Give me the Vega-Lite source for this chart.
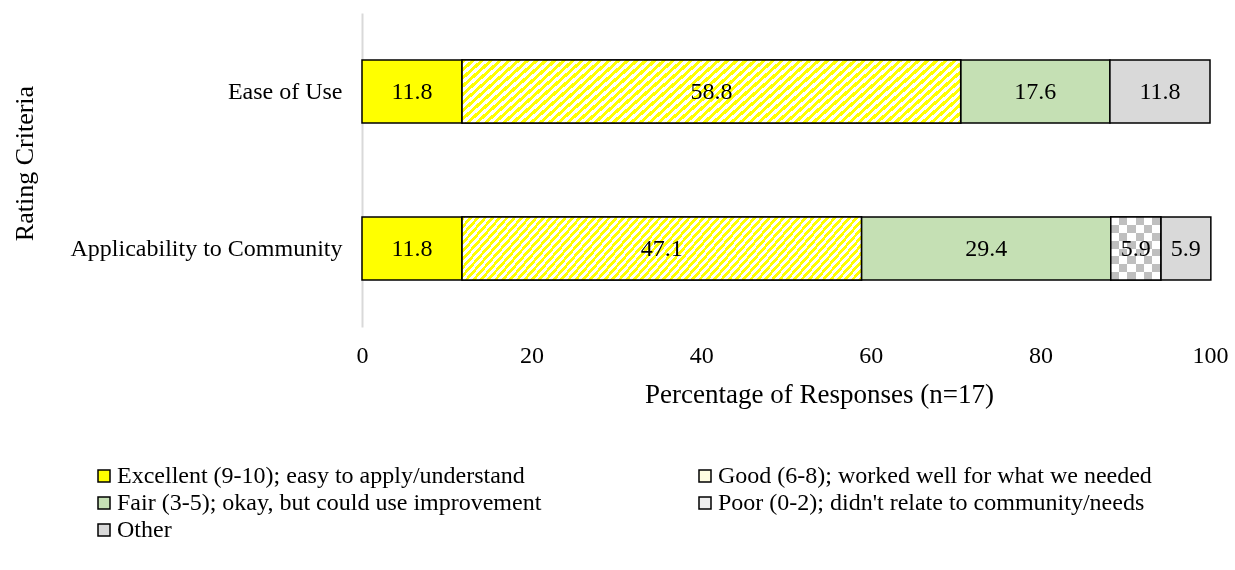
{
  "$schema": "https://vega.github.io/schema/vega-lite/v6.json",
  "width": 848,
  "height": 314,
  "autosize": {"type": "none"},
  "padding": {"left": 362, "top": 13, "right": 25, "bottom": 243},
  "background": "white",
  "config": {
    "font": "Liberation Serif",
    "view": {"stroke": null},
    "axis": {"labelColor": "black", "titleColor": "black", "titleFontWeight": "normal", "labelFont": "Liberation Serif", "titleFont": "Liberation Serif"},
    "legend": {"labelFont": "Liberation Serif"}
  },
  "data": {
    "values": [
      {"criteria": "Ease of Use", "rating": "Excellent (9-10); easy to apply/understand", "rank": 1, "pct": 11.8},
      {"criteria": "Ease of Use", "rating": "Good (6-8); worked well for what we needed", "rank": 2, "pct": 58.8},
      {"criteria": "Ease of Use", "rating": "Fair (3-5); okay, but could use improvement", "rank": 3, "pct": 17.6},
      {"criteria": "Ease of Use", "rating": "Other", "rank": 5, "pct": 11.8},
      {"criteria": "Applicability to Community", "rating": "Excellent (9-10); easy to apply/understand", "rank": 1, "pct": 11.8},
      {"criteria": "Applicability to Community", "rating": "Good (6-8); worked well for what we needed", "rank": 2, "pct": 47.1},
      {"criteria": "Applicability to Community", "rating": "Fair (3-5); okay, but could use improvement", "rank": 3, "pct": 29.4},
      {"criteria": "Applicability to Community", "rating": "Poor (0-2); didn't relate to community/needs", "rank": 4, "pct": 5.9},
      {"criteria": "Applicability to Community", "rating": "Other", "rank": 5, "pct": 5.9}
    ]
  },
  "transform": [
    {"stack": "pct", "groupby": ["criteria"], "sort": [{"field": "rank", "order": "ascending"}], "as": ["x0", "x1"]},
    {"calculate": "(datum.x0 + datum.x1) / 2", "as": "mid"}
  ],
  "encoding": {
    "y": {
      "field": "criteria",
      "type": "nominal",
      "sort": ["Ease of Use", "Applicability to Community"],
      "scale": {"paddingInner": 0.6, "paddingOuter": 0.3},
      "axis": {
        "title": "Rating Criteria",
        "labelFontSize": 24,
        "titleFontSize": 26,
        "labelPadding": 20,
        "ticks": false,
        "tickSize": 0,
        "domainColor": "#d9d9d9",
        "domainWidth": 2,
        "grid": false,
        "labelLimit": 400,
        "titleAngle": -90,
        "titleX": -330,
        "titleY": 150,
        "titleAlign": "center",
        "titleBaseline": "alphabetic"
      }
    },
    "x": {
      "field": "x0",
      "type": "quantitative",
      "scale": {"domain": [0, 100], "nice": false},
      "axis": {
        "title": "Percentage of Responses (n=17)",
        "values": [0, 20, 40, 60, 80, 100],
        "domain": false,
        "ticks": false,
        "tickSize": 0,
        "grid": false,
        "labelFlush": false,
        "labelFontSize": 24,
        "labelPadding": 16,
        "titleFontSize": 27,
        "titleX": 457,
        "titleY": 75,
        "titleAlign": "center",
        "titleBaseline": "alphabetic"
      }
    },
    "x2": {"field": "x1"}
  },
  "layer": [
    {
      "mark": {"type": "bar", "stroke": "black", "strokeWidth": 1.5},
      "encoding": {
        "color": {
          "field": "rating",
          "type": "nominal",
          "scale": {
            "domain": ["Excellent (9-10); easy to apply/understand", "Good (6-8); worked well for what we needed", "Fair (3-5); okay, but could use improvement", "Poor (0-2); didn't relate to community/needs", "Other"],
            "range": ["#ffff00", "#fffde0", "#c5e0b4", "#eeeeee", "#d9d9d9"]
          },
          "legend": {
            "orient": "none",
            "direction": "horizontal",
            "legendX": -270,
            "legendY": 451,
            "columns": 2,
            "columnPadding": 151,
            "rowPadding": 3,
            "title": null,
            "padding": 0,
            "labelFontSize": 24,
            "labelColor": "black",
            "labelLimit": 700,
            "labelOffset": 1,
            "symbolType": "square",
            "symbolSize": 144,
            "symbolStrokeColor": "black",
            "symbolStrokeWidth": 1.5,
            "symbolOpacity": 1
          }
        }
      }
    },
    {
      "transform": [{"filter": "datum.rank === 2"}],
      "mark": {
        "type": "bar",
        "stroke": "black",
        "strokeWidth": 1.5,
        "fill": {
          "gradient": "linear", "x1": 0, "y1": 0, "x2": 1.118, "y2": 0.1566,
          "stops": [
            {"offset": 0, "color": "#ff0"},
            {"offset": 0.008, "color": "#ff0"}, {"offset": 0.008, "color": "#fff"},
            {"offset": 0.016, "color": "#fff"}, {"offset": 0.016, "color": "#ff0"},
            {"offset": 0.024, "color": "#ff0"}, {"offset": 0.024, "color": "#fff"},
            {"offset": 0.032, "color": "#fff"}, {"offset": 0.032, "color": "#ff0"},
            {"offset": 0.04, "color": "#ff0"}, {"offset": 0.04, "color": "#fff"},
            {"offset": 0.048, "color": "#fff"}, {"offset": 0.048, "color": "#ff0"},
            {"offset": 0.056, "color": "#ff0"}, {"offset": 0.056, "color": "#fff"},
            {"offset": 0.064, "color": "#fff"}, {"offset": 0.064, "color": "#ff0"},
            {"offset": 0.072, "color": "#ff0"}, {"offset": 0.072, "color": "#fff"},
            {"offset": 0.08, "color": "#fff"}, {"offset": 0.08, "color": "#ff0"},
            {"offset": 0.088, "color": "#ff0"}, {"offset": 0.088, "color": "#fff"},
            {"offset": 0.096, "color": "#fff"}, {"offset": 0.096, "color": "#ff0"},
            {"offset": 0.104, "color": "#ff0"}, {"offset": 0.104, "color": "#fff"},
            {"offset": 0.112, "color": "#fff"}, {"offset": 0.112, "color": "#ff0"},
            {"offset": 0.12, "color": "#ff0"}, {"offset": 0.12, "color": "#fff"},
            {"offset": 0.128, "color": "#fff"}, {"offset": 0.128, "color": "#ff0"},
            {"offset": 0.136, "color": "#ff0"}, {"offset": 0.136, "color": "#fff"},
            {"offset": 0.144, "color": "#fff"}, {"offset": 0.144, "color": "#ff0"},
            {"offset": 0.152, "color": "#ff0"}, {"offset": 0.152, "color": "#fff"},
            {"offset": 0.16, "color": "#fff"}, {"offset": 0.16, "color": "#ff0"},
            {"offset": 0.168, "color": "#ff0"}, {"offset": 0.168, "color": "#fff"},
            {"offset": 0.176, "color": "#fff"}, {"offset": 0.176, "color": "#ff0"},
            {"offset": 0.184, "color": "#ff0"}, {"offset": 0.184, "color": "#fff"},
            {"offset": 0.192, "color": "#fff"}, {"offset": 0.192, "color": "#ff0"},
            {"offset": 0.2, "color": "#ff0"}, {"offset": 0.2, "color": "#fff"},
            {"offset": 0.208, "color": "#fff"}, {"offset": 0.208, "color": "#ff0"},
            {"offset": 0.216, "color": "#ff0"}, {"offset": 0.216, "color": "#fff"},
            {"offset": 0.224, "color": "#fff"}, {"offset": 0.224, "color": "#ff0"},
            {"offset": 0.232, "color": "#ff0"}, {"offset": 0.232, "color": "#fff"},
            {"offset": 0.24, "color": "#fff"}, {"offset": 0.24, "color": "#ff0"},
            {"offset": 0.248, "color": "#ff0"}, {"offset": 0.248, "color": "#fff"},
            {"offset": 0.256, "color": "#fff"}, {"offset": 0.256, "color": "#ff0"},
            {"offset": 0.264, "color": "#ff0"}, {"offset": 0.264, "color": "#fff"},
            {"offset": 0.272, "color": "#fff"}, {"offset": 0.272, "color": "#ff0"},
            {"offset": 0.28, "color": "#ff0"}, {"offset": 0.28, "color": "#fff"},
            {"offset": 0.288, "color": "#fff"}, {"offset": 0.288, "color": "#ff0"},
            {"offset": 0.296, "color": "#ff0"}, {"offset": 0.296, "color": "#fff"},
            {"offset": 0.304, "color": "#fff"}, {"offset": 0.304, "color": "#ff0"},
            {"offset": 0.312, "color": "#ff0"}, {"offset": 0.312, "color": "#fff"},
            {"offset": 0.32, "color": "#fff"}, {"offset": 0.32, "color": "#ff0"},
            {"offset": 0.328, "color": "#ff0"}, {"offset": 0.328, "color": "#fff"},
            {"offset": 0.336, "color": "#fff"}, {"offset": 0.336, "color": "#ff0"},
            {"offset": 0.344, "color": "#ff0"}, {"offset": 0.344, "color": "#fff"},
            {"offset": 0.352, "color": "#fff"}, {"offset": 0.352, "color": "#ff0"},
            {"offset": 0.36, "color": "#ff0"}, {"offset": 0.36, "color": "#fff"},
            {"offset": 0.368, "color": "#fff"}, {"offset": 0.368, "color": "#ff0"},
            {"offset": 0.376, "color": "#ff0"}, {"offset": 0.376, "color": "#fff"},
            {"offset": 0.384, "color": "#fff"}, {"offset": 0.384, "color": "#ff0"},
            {"offset": 0.392, "color": "#ff0"}, {"offset": 0.392, "color": "#fff"},
            {"offset": 0.4, "color": "#fff"}, {"offset": 0.4, "color": "#ff0"},
            {"offset": 0.408, "color": "#ff0"}, {"offset": 0.408, "color": "#fff"},
            {"offset": 0.416, "color": "#fff"}, {"offset": 0.416, "color": "#ff0"},
            {"offset": 0.424, "color": "#ff0"}, {"offset": 0.424, "color": "#fff"},
            {"offset": 0.432, "color": "#fff"}, {"offset": 0.432, "color": "#ff0"},
            {"offset": 0.44, "color": "#ff0"}, {"offset": 0.44, "color": "#fff"},
            {"offset": 0.448, "color": "#fff"}, {"offset": 0.448, "color": "#ff0"},
            {"offset": 0.456, "color": "#ff0"}, {"offset": 0.456, "color": "#fff"},
            {"offset": 0.464, "color": "#fff"}, {"offset": 0.464, "color": "#ff0"},
            {"offset": 0.472, "color": "#ff0"}, {"offset": 0.472, "color": "#fff"},
            {"offset": 0.48, "color": "#fff"}, {"offset": 0.48, "color": "#ff0"},
            {"offset": 0.488, "color": "#ff0"}, {"offset": 0.488, "color": "#fff"},
            {"offset": 0.496, "color": "#fff"}, {"offset": 0.496, "color": "#ff0"},
            {"offset": 0.504, "color": "#ff0"}, {"offset": 0.504, "color": "#fff"},
            {"offset": 0.512, "color": "#fff"}, {"offset": 0.512, "color": "#ff0"},
            {"offset": 0.52, "color": "#ff0"}, {"offset": 0.52, "color": "#fff"},
            {"offset": 0.528, "color": "#fff"}, {"offset": 0.528, "color": "#ff0"},
            {"offset": 0.536, "color": "#ff0"}, {"offset": 0.536, "color": "#fff"},
            {"offset": 0.544, "color": "#fff"}, {"offset": 0.544, "color": "#ff0"},
            {"offset": 0.552, "color": "#ff0"}, {"offset": 0.552, "color": "#fff"},
            {"offset": 0.56, "color": "#fff"}, {"offset": 0.56, "color": "#ff0"},
            {"offset": 0.568, "color": "#ff0"}, {"offset": 0.568, "color": "#fff"},
            {"offset": 0.576, "color": "#fff"}, {"offset": 0.576, "color": "#ff0"},
            {"offset": 0.584, "color": "#ff0"}, {"offset": 0.584, "color": "#fff"},
            {"offset": 0.592, "color": "#fff"}, {"offset": 0.592, "color": "#ff0"},
            {"offset": 0.6, "color": "#ff0"}, {"offset": 0.6, "color": "#fff"},
            {"offset": 0.608, "color": "#fff"}, {"offset": 0.608, "color": "#ff0"},
            {"offset": 0.616, "color": "#ff0"}, {"offset": 0.616, "color": "#fff"},
            {"offset": 0.624, "color": "#fff"}, {"offset": 0.624, "color": "#ff0"},
            {"offset": 0.632, "color": "#ff0"}, {"offset": 0.632, "color": "#fff"},
            {"offset": 0.64, "color": "#fff"}, {"offset": 0.64, "color": "#ff0"},
            {"offset": 0.648, "color": "#ff0"}, {"offset": 0.648, "color": "#fff"},
            {"offset": 0.656, "color": "#fff"}, {"offset": 0.656, "color": "#ff0"},
            {"offset": 0.664, "color": "#ff0"}, {"offset": 0.664, "color": "#fff"},
            {"offset": 0.672, "color": "#fff"}, {"offset": 0.672, "color": "#ff0"},
            {"offset": 0.68, "color": "#ff0"}, {"offset": 0.68, "color": "#fff"},
            {"offset": 0.688, "color": "#fff"}, {"offset": 0.688, "color": "#ff0"},
            {"offset": 0.696, "color": "#ff0"}, {"offset": 0.696, "color": "#fff"},
            {"offset": 0.704, "color": "#fff"}, {"offset": 0.704, "color": "#ff0"},
            {"offset": 0.712, "color": "#ff0"}, {"offset": 0.712, "color": "#fff"},
            {"offset": 0.72, "color": "#fff"}, {"offset": 0.72, "color": "#ff0"},
            {"offset": 0.728, "color": "#ff0"}, {"offset": 0.728, "color": "#fff"},
            {"offset": 0.736, "color": "#fff"}, {"offset": 0.736, "color": "#ff0"},
            {"offset": 0.744, "color": "#ff0"}, {"offset": 0.744, "color": "#fff"},
            {"offset": 0.752, "color": "#fff"}, {"offset": 0.752, "color": "#ff0"},
            {"offset": 0.76, "color": "#ff0"}, {"offset": 0.76, "color": "#fff"},
            {"offset": 0.768, "color": "#fff"}, {"offset": 0.768, "color": "#ff0"},
            {"offset": 0.776, "color": "#ff0"}, {"offset": 0.776, "color": "#fff"},
            {"offset": 0.784, "color": "#fff"}, {"offset": 0.784, "color": "#ff0"},
            {"offset": 0.792, "color": "#ff0"}, {"offset": 0.792, "color": "#fff"},
            {"offset": 0.8, "color": "#fff"}, {"offset": 0.8, "color": "#ff0"},
            {"offset": 0.808, "color": "#ff0"}, {"offset": 0.808, "color": "#fff"},
            {"offset": 0.816, "color": "#fff"}, {"offset": 0.816, "color": "#ff0"},
            {"offset": 0.824, "color": "#ff0"}, {"offset": 0.824, "color": "#fff"},
            {"offset": 0.832, "color": "#fff"}, {"offset": 0.832, "color": "#ff0"},
            {"offset": 0.84, "color": "#ff0"}, {"offset": 0.84, "color": "#fff"},
            {"offset": 0.848, "color": "#fff"}, {"offset": 0.848, "color": "#ff0"},
            {"offset": 0.856, "color": "#ff0"}, {"offset": 0.856, "color": "#fff"},
            {"offset": 0.864, "color": "#fff"}, {"offset": 0.864, "color": "#ff0"},
            {"offset": 0.872, "color": "#ff0"}, {"offset": 0.872, "color": "#fff"},
            {"offset": 0.88, "color": "#fff"}, {"offset": 0.88, "color": "#ff0"},
            {"offset": 0.888, "color": "#ff0"}, {"offset": 0.888, "color": "#fff"},
            {"offset": 0.896, "color": "#fff"}, {"offset": 0.896, "color": "#ff0"},
            {"offset": 0.904, "color": "#ff0"}, {"offset": 0.904, "color": "#fff"},
            {"offset": 0.912, "color": "#fff"}, {"offset": 0.912, "color": "#ff0"},
            {"offset": 0.92, "color": "#ff0"}, {"offset": 0.92, "color": "#fff"},
            {"offset": 0.928, "color": "#fff"}, {"offset": 0.928, "color": "#ff0"},
            {"offset": 0.936, "color": "#ff0"}, {"offset": 0.936, "color": "#fff"},
            {"offset": 0.944, "color": "#fff"}, {"offset": 0.944, "color": "#ff0"},
            {"offset": 0.952, "color": "#ff0"}, {"offset": 0.952, "color": "#fff"},
            {"offset": 0.96, "color": "#fff"}, {"offset": 0.96, "color": "#ff0"},
            {"offset": 0.968, "color": "#ff0"}, {"offset": 0.968, "color": "#fff"},
            {"offset": 0.976, "color": "#fff"}, {"offset": 0.976, "color": "#ff0"},
            {"offset": 0.984, "color": "#ff0"}, {"offset": 0.984, "color": "#fff"},
            {"offset": 0.992, "color": "#fff"}, {"offset": 0.992, "color": "#ff0"},
            {"offset": 1, "color": "#ff0"}
          ]
        }
      }
    },
    {
      "transform": [{"filter": "datum.rank === 4"}],
      "mark": {
        "type": "bar",
        "fill": {
          "gradient": "linear", "x1": 0, "y1": 0, "x2": 0, "y2": 1,
          "stops": [
            {"offset": 0, "color": "#000"}, {"offset": 0.125, "color": "#000"},
            {"offset": 0.125, "color": "#fff"}, {"offset": 0.25, "color": "#fff"},
            {"offset": 0.25, "color": "#000"}, {"offset": 0.375, "color": "#000"},
            {"offset": 0.375, "color": "#fff"}, {"offset": 0.5, "color": "#fff"},
            {"offset": 0.5, "color": "#000"}, {"offset": 0.625, "color": "#000"},
            {"offset": 0.625, "color": "#fff"}, {"offset": 0.75, "color": "#fff"},
            {"offset": 0.75, "color": "#000"}, {"offset": 0.875, "color": "#000"},
            {"offset": 0.875, "color": "#fff"}, {"offset": 1, "color": "#fff"}
          ]
        }
      }
    },
    {
      "transform": [{"filter": "datum.rank === 4"}],
      "mark": {
        "type": "bar",
        "blend": "difference",
        "fill": {
          "gradient": "linear", "x1": 0, "y1": 0, "x2": 1, "y2": 0,
          "stops": [
            {"offset": 0, "color": "#fff"}, {"offset": 0.1667, "color": "#fff"},
            {"offset": 0.1667, "color": "#000"}, {"offset": 0.3333, "color": "#000"},
            {"offset": 0.3333, "color": "#fff"}, {"offset": 0.5, "color": "#fff"},
            {"offset": 0.5, "color": "#000"}, {"offset": 0.6667, "color": "#000"},
            {"offset": 0.6667, "color": "#fff"}, {"offset": 0.8333, "color": "#fff"},
            {"offset": 0.8333, "color": "#000"}, {"offset": 1, "color": "#000"}
          ]
        }
      }
    },
    {
      "transform": [{"filter": "datum.rank === 4"}],
      "mark": {"type": "bar", "fill": "#ffffff", "fillOpacity": 0.75, "stroke": "black", "strokeWidth": 1.5}
    },
    {
      "mark": {"type": "text", "font": "Liberation Serif", "fontSize": 24, "color": "black", "align": "center", "baseline": "middle"},
      "encoding": {
        "x": {
          "field": "mid",
          "type": "quantitative",
          "scale": {"domain": [0, 100], "nice": false},
          "axis": {
            "title": "Percentage of Responses (n=17)",
            "values": [0, 20, 40, 60, 80, 100],
            "domain": false,
            "ticks": false,
            "tickSize": 0,
            "grid": false,
            "labelFlush": false,
            "labelFontSize": 24,
            "labelPadding": 16,
            "titleFontSize": 27,
            "titleX": 457,
            "titleY": 75,
            "titleAlign": "center",
            "titleBaseline": "alphabetic"
          }
        },
        "x2": null,
        "text": {"field": "pct", "type": "quantitative", "format": ".1f"}
      }
    }
  ]
}
